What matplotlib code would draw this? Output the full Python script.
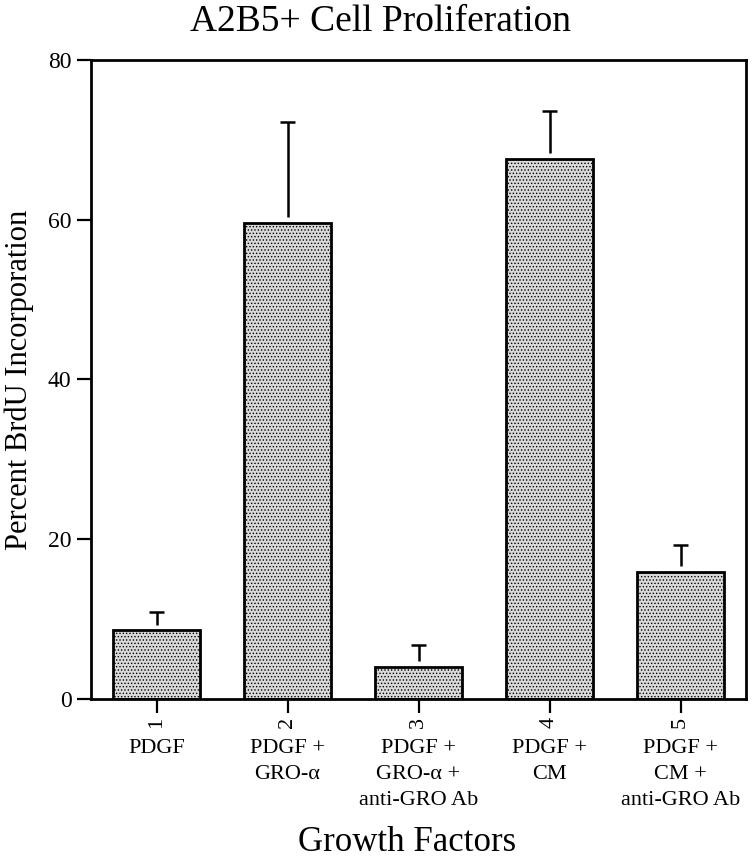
import matplotlib
matplotlib.use("Agg")
import matplotlib.pyplot as plt

# data
positions = [1, 2, 3, 4, 5]
tick_numbers = ["1", "2", "3", "4", "5"]
groups = ["PDGF",
          "PDGF +\nGRO-\u03b1",
          "PDGF +\nGRO-\u03b1 +\nanti-GRO Ab",
          "PDGF +\nCM",
          "PDGF +\nCM +\nanti-GRO Ab"]
brdu = [8.6, 59.6, 4.0, 67.6, 15.9]
err_up = [2.3, 12.6, 2.8, 6.0, 3.4]

plt.rcParams['font.family'] = ['Liberation Serif', 'DejaVu Serif']
plt.rcParams['hatch.linewidth'] = 0.6

fig = plt.figure(figsize=(7.54, 8.64), dpi=100)
ax = fig.add_axes([0.1207, 0.191, 0.8687, 0.7396])

ax.bar(positions, brdu, width=0.67, facecolor='#d9d9d9', edgecolor='black',
       linewidth=2, hatch='.....', zorder=2)

# upper error bars only (small gap above the bar like the original)
tops = [b + e for b, e in zip(brdu, err_up)]
ax.vlines(positions, [b + 0.7 for b in brdu], tops, color='black',
          linewidth=1.8, zorder=3)
ax.hlines(tops, [p - 0.06 for p in positions], [p + 0.06 for p in positions],
          color='black', linewidth=1.8, zorder=3)

ax.set_xlim(0.5, 5.5)
ax.set_ylim(0, 80)
ax.set_yticks([0, 20, 40, 60, 80])
ax.set_xticks(positions)
ax.set_xticklabels(tick_numbers, rotation=90)
ax.tick_params(axis='both', direction='out', length=10, width=1.6,
               labelsize=17, pad=4)
ax.tick_params(axis='x', labelsize=16, pad=3)
for s in ax.spines.values():
    s.set_linewidth(2)

for x, g in zip(positions, groups):
    ax.annotate(g, xy=(x, 0), xycoords=('data', 'axes fraction'),
                xytext=(0, -29), textcoords='offset points',
                ha='center', va='top', fontsize=16, linespacing=1.5)

ax.set_ylabel("Percent BrdU Incorporation", fontsize=22, labelpad=10)
fig.text(0.54, 0.006, "Growth Factors", ha='center', va='bottom', fontsize=25)
fig.text(0.505, 0.975, "A2B5+ Cell Proliferation", ha='center',
         va='center', fontsize=27)

fig.savefig("out.png", dpi=100)
